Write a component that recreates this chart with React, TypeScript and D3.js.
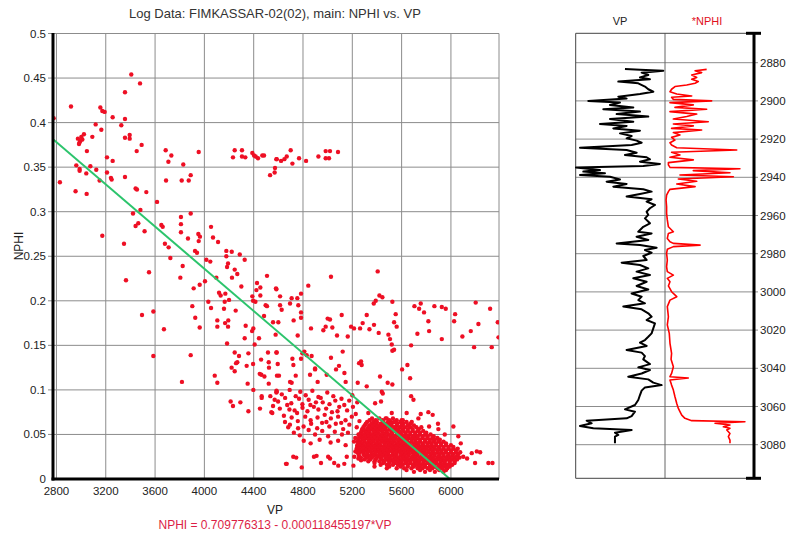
import React from 'react';
import * as d3 from 'd3';

// ---- Crossplot axes ----
const X_TICKS = [2800, 3200, 3600, 4000, 4400, 4800, 5200, 5600, 6000];
const Y_TICKS = [0, 0.05, 0.1, 0.15, 0.2, 0.25, 0.3, 0.35, 0.4, 0.45, 0.5];
const DEPTH_TICKS = [2880, 2900, 2920, 2940, 2960, 2980, 3000, 3020, 3040, 3060, 3080];

// Linear fit NPHI = a - b * VP
const FIT_INTERCEPT = 0.709776313;
const FIT_SLOPE = 0.000118455197;

// ---- Crossplot samples [VP, NPHI] ----
const SHALE_POINTS: [number, number][] = [
  [3407, 0.454], [3478, 0.444], [3356, 0.434], [2918, 0.418], [3156, 0.417], [3172, 0.413], [3191, 0.412],
  [3256, 0.406], [3356, 0.404], [2777, 0.405], [3326, 0.397], [3118, 0.398], [3164, 0.392], [3091, 0.384],
  [3356, 0.383], [3394, 0.386], [3394, 0.382], [3023, 0.387], [3002, 0.384], [2974, 0.382], [3010, 0.381],
  [2988, 0.378], [2983, 0.376], [2995, 0.38], [3491, 0.375], [3047, 0.368], [3451, 0.368], [3686, 0.369],
  [3732, 0.363], [3708, 0.356], [3954, 0.367], [3829, 0.353], [3210, 0.361], [3256, 0.357], [2961, 0.352],
  [3075, 0.351], [3123, 0.347], [2988, 0.346], [2988, 0.348], [3042, 0.343], [3210, 0.344], [3242, 0.338],
  [3248, 0.336], [3150, 0.335], [3356, 0.339], [3689, 0.335], [3816, 0.335], [3873, 0.335], [3889, 0.341],
  [2828, 0.333], [2955, 0.323], [3045, 0.32], [3442, 0.326], [3453, 0.325], [3529, 0.322], [3616, 0.311],
  [3481, 0.302], [3421, 0.298], [3810, 0.294], [3889, 0.298], [3464, 0.287], [3442, 0.284], [3515, 0.278],
  [3651, 0.285], [3662, 0.283], [3810, 0.286], [3810, 0.277], [3867, 0.27], [3951, 0.275], [3964, 0.272],
  [3954, 0.267], [4054, 0.283], [4070, 0.271], [4111, 0.266], [3680, 0.264], [3710, 0.26], [3172, 0.273],
  [3348, 0.264], [3924, 0.256], [3940, 0.254], [4178, 0.256], [4222, 0.255], [4287, 0.252],
];

const BAND_POINTS: [number, number][] = [
  [4232, 0.361], [4246, 0.369], [4305, 0.369], [4305, 0.362], [4332, 0.361], [4389, 0.366], [4403, 0.363],
  [4416, 0.362], [4435, 0.36], [4470, 0.363], [4484, 0.363], [4584, 0.359], [4573, 0.349], [4570, 0.344],
  [4533, 0.341], [4587, 0.359], [4622, 0.357], [4649, 0.359], [4668, 0.362], [4700, 0.369], [4714, 0.354],
  [4768, 0.36], [4825, 0.357], [4925, 0.362], [4984, 0.368], [5019, 0.368], [4984, 0.36], [5011, 0.36],
  [5084, 0.367],
];

const MID_POINTS: [number, number][] = [
  [3724, 0.248], [4016, 0.246], [4048, 0.244], [4178, 0.25], [4327, 0.246], [4192, 0.242], [4184, 0.238],
  [4246, 0.235], [4267, 0.23], [3824, 0.239], [3805, 0.226], [3551, 0.232], [3364, 0.223], [4224, 0.226],
  [4508, 0.228], [4427, 0.22], [4454, 0.215], [4584, 0.213], [3962, 0.218], [3913, 0.214], [4005, 0.222],
  [4097, 0.226], [4300, 0.216], [4422, 0.212], [4119, 0.209], [4132, 0.206], [4170, 0.208], [4389, 0.205],
  [4454, 0.206], [4414, 0.199], [4395, 0.2], [4200, 0.201], [4165, 0.199], [4032, 0.199], [4054, 0.192],
  [4159, 0.191], [4254, 0.189], [4497, 0.195], [4508, 0.194], [4484, 0.183], [4557, 0.176], [4578, 0.162],
  [3902, 0.194], [3926, 0.181], [3962, 0.17], [4105, 0.178], [4105, 0.171], [4168, 0.175], [4192, 0.171],
  [4194, 0.178], [4335, 0.172], [4397, 0.169], [4387, 0.166], [4443, 0.158], [4327, 0.158], [4408, 0.151],
  [4184, 0.152], [3494, 0.184], [3586, 0.188], [3672, 0.168], [3586, 0.138], [3889, 0.139], [3818, 0.109],
  [4084, 0.116], [4105, 0.108], [4246, 0.142], [4281, 0.138], [4267, 0.131], [4257, 0.13], [4221, 0.125],
  [4246, 0.121], [4343, 0.127], [4357, 0.141], [4395, 0.129], [4460, 0.134], [4522, 0.131], [4516, 0.142],
  [4584, 0.142], [4524, 0.125], [4589, 0.116], [4449, 0.118], [4462, 0.117], [4487, 0.115], [4522, 0.107],
  [4351, 0.107], [4397, 0.1], [4465, 0.093], [4465, 0.091], [4535, 0.093], [4570, 0.089], [4584, 0.097],
  [4213, 0.087], [4232, 0.082], [4292, 0.086], [4357, 0.076], [4451, 0.079], [4543, 0.075], [4557, 0.082],
  [4551, 0.074],
  [5406, 0.233], [5027, 0.227], [4843, 0.217], [4581, 0.214], [4614, 0.205], [4708, 0.203], [4754, 0.203],
  [4784, 0.208], [4695, 0.197], [4762, 0.195], [4614, 0.195], [4627, 0.19], [4784, 0.187], [4784, 0.181],
  [4724, 0.178], [4600, 0.176], [4757, 0.161], [4865, 0.169], [4965, 0.167], [4984, 0.171], [5000, 0.18],
  [5019, 0.179], [5038, 0.17], [5114, 0.184], [5076, 0.161], [5163, 0.16], [5190, 0.171], [5214, 0.169],
  [5263, 0.169], [5284, 0.175], [5317, 0.184], [5339, 0.168], [5376, 0.173], [5374, 0.197], [5390, 0.2],
  [5420, 0.206], [5444, 0.204], [5414, 0.164], [5493, 0.162], [5506, 0.157], [5525, 0.199], [5539, 0.176],
  [5560, 0.171], [5552, 0.185], [5520, 0.151], [5539, 0.145], [5525, 0.144], [5677, 0.15], [5704, 0.194],
  [5742, 0.191], [5755, 0.197], [5782, 0.187], [5728, 0.163], [5817, 0.177], [5823, 0.166], [5866, 0.194],
  [5926, 0.193], [5958, 0.191], [5926, 0.157], [6034, 0.185], [6026, 0.177], [6093, 0.16], [6161, 0.166],
  [6223, 0.174], [6201, 0.198], [6318, 0.191], [6188, 0.148], [6331, 0.148], [6380, 0.176], [6386, 0.159],
  [4587, 0.142], [4595, 0.129], [4605, 0.116], [4587, 0.098], [4714, 0.135], [4722, 0.128], [4784, 0.135],
  [4795, 0.141], [4811, 0.143], [4830, 0.139], [4870, 0.138], [4857, 0.117], [4741, 0.116], [4695, 0.109],
  [4708, 0.108], [4898, 0.123], [4898, 0.124], [4919, 0.109], [5027, 0.136], [4992, 0.117], [5068, 0.123],
  [5092, 0.127], [5122, 0.143], [5136, 0.119], [5146, 0.109], [5244, 0.108], [5255, 0.13], [5271, 0.132],
  [5276, 0.128], [5317, 0.104], [5425, 0.115], [5487, 0.108], [5439, 0.098], [5385, 0.085], [5433, 0.087],
  [5447, 0.096], [5525, 0.106], [5604, 0.123], [5647, 0.128], [5669, 0.113], [5677, 0.093], [5696, 0.089],
  [5755, 0.073], [5817, 0.075], [5736, 0.068], [5682, 0.064], [5823, 0.059], [5898, 0.056], [6020, 0.059],
  [5479, 0.068], [5520, 0.074], [5514, 0.064], [5641, 0.074], [5852, 0.072], [5722, 0.048],
];

const CLUSTER_A: [number, number][] = [
  [4585, 0.099], [4628, 0.095], [4692, 0.1], [4741, 0.093], [4778, 0.098], [4822, 0.094], [4876, 0.099],
  [4925, 0.092], [4997, 0.097], [5046, 0.093], [5112, 0.09], [5175, 0.088],
  [4598, 0.087], [4655, 0.091], [4705, 0.085], [4768, 0.09], [4795, 0.084], [4846, 0.089], [4905, 0.086],
  [4944, 0.091], [5015, 0.084], [5062, 0.088], [5135, 0.083], [5205, 0.081],
  [4612, 0.079], [4672, 0.083], [4732, 0.077], [4796, 0.08], [4836, 0.076], [4888, 0.081], [4925, 0.078],
  [4988, 0.079], [5035, 0.075], [5094, 0.081], [5158, 0.077], [5228, 0.073],
  [4645, 0.071], [4708, 0.069], [4752, 0.074], [4818, 0.07], [4862, 0.066], [4918, 0.069], [4976, 0.072],
  [5026, 0.068], [5085, 0.07], [5145, 0.066], [5196, 0.07], [5258, 0.065],
  [4694, 0.061], [4758, 0.065], [4805, 0.059], [4866, 0.062], [4915, 0.057], [4955, 0.063], [5014, 0.059],
  [5066, 0.062], [5126, 0.056], [5176, 0.061], [5236, 0.058],
  [4726, 0.052], [4774, 0.049], [4846, 0.055], [4898, 0.05], [4956, 0.054], [5004, 0.048], [5058, 0.053],
  [5116, 0.05], [5165, 0.052], [5224, 0.046],
  [4806, 0.043], [4862, 0.04], [4935, 0.044], [5024, 0.041], [5085, 0.043], [5146, 0.038], [5214, 0.042],
  [4654, 0.064], [4690, 0.078], [4860, 0.083], [4960, 0.086], [5080, 0.076], [5200, 0.094], [5240, 0.086],
  [5250, 0.05], [4760, 0.057], [4990, 0.064], [5110, 0.063], [4680, 0.058],
];

// Dense low-porosity core: [NPHI, VP values]
const CORE_ROWS: [number, number[]][] = [
  [0.068, [5360, 5420, 5470, 5530]],
  [0.066, [5340, 5390, 5445, 5500, 5560, 5610]],
  [0.064, [5320, 5370, 5400, 5450, 5490, 5540, 5590, 5640]],
  [0.062, [5310, 5355, 5390, 5430, 5470, 5515, 5565, 5615, 5670]],
  [0.06, [5300, 5340, 5380, 5415, 5450, 5490, 5520, 5560, 5600, 5650, 5700]],
  [0.058, [5290, 5330, 5365, 5400, 5435, 5470, 5505, 5545, 5585, 5625, 5670, 5720]],
  [0.056, [5280, 5320, 5350, 5390, 5420, 5460, 5500, 5530, 5570, 5610, 5650, 5690, 5740]],
  [0.054, [5275, 5300, 5335, 5370, 5405, 5440, 5480, 5515, 5550, 5580, 5615, 5650, 5690, 5730, 5775]],
  [0.052, [5270, 5310, 5340, 5380, 5410, 5450, 5480, 5520, 5560, 5590, 5630, 5670, 5710, 5750, 5800]],
  [0.05, [5265, 5290, 5325, 5355, 5390, 5425, 5455, 5495, 5525, 5565, 5600, 5635, 5670, 5710, 5745, 5790, 5835]],
  [0.048, [5260, 5300, 5330, 5370, 5400, 5440, 5470, 5510, 5540, 5580, 5620, 5650, 5690, 5730, 5770, 5810, 5860]],
  [0.046, [5255, 5280, 5310, 5345, 5380, 5415, 5450, 5480, 5515, 5550, 5585, 5620, 5660, 5695, 5730, 5770, 5810, 5850, 5890]],
  [0.044, [5250, 5290, 5330, 5360, 5400, 5430, 5460, 5500, 5530, 5570, 5600, 5640, 5680, 5710, 5750, 5790, 5830, 5870, 5910]],
  [0.042, [5245, 5265, 5300, 5335, 5370, 5405, 5440, 5475, 5505, 5540, 5575, 5610, 5645, 5680, 5715, 5750, 5790, 5825, 5860, 5900, 5940]],
  [0.04, [5250, 5280, 5320, 5350, 5390, 5420, 5460, 5490, 5520, 5560, 5590, 5630, 5660, 5700, 5730, 5770, 5810, 5840, 5880, 5920, 5960]],
  [0.038, [5240, 5260, 5295, 5330, 5365, 5400, 5430, 5465, 5500, 5535, 5570, 5605, 5635, 5670, 5705, 5740, 5775, 5810, 5845, 5880, 5920, 5960, 6000]],
  [0.036, [5240, 5280, 5310, 5350, 5380, 5410, 5450, 5480, 5520, 5550, 5590, 5620, 5650, 5690, 5720, 5760, 5790, 5830, 5860, 5900, 5940, 5980, 6020]],
  [0.034, [5235, 5255, 5290, 5325, 5360, 5395, 5425, 5460, 5495, 5530, 5565, 5600, 5630, 5665, 5700, 5735, 5770, 5800, 5835, 5870, 5905, 5940, 5980, 6020, 6055]],
  [0.032, [5240, 5270, 5310, 5340, 5380, 5410, 5440, 5480, 5510, 5540, 5580, 5610, 5650, 5680, 5710, 5750, 5780, 5820, 5850, 5890, 5920, 5960, 6000, 6040]],
  [0.03, [5240, 5260, 5290, 5325, 5355, 5390, 5420, 5455, 5490, 5525, 5560, 5590, 5625, 5655, 5690, 5720, 5755, 5790, 5820, 5855, 5890, 5925, 5960, 6000, 6040, 6075]],
  [0.028, [5250, 5290, 5320, 5360, 5390, 5430, 5460, 5490, 5530, 5560, 5600, 5630, 5660, 5700, 5730, 5770, 5800, 5840, 5870, 5910, 5940, 5980, 6020, 6060]],
  [0.026, [5255, 5300, 5340, 5375, 5410, 5445, 5480, 5515, 5550, 5590, 5620, 5655, 5690, 5725, 5760, 5795, 5830, 5865, 5900, 5940, 5975, 6010, 6050]],
  [0.024, [5270, 5320, 5360, 5400, 5430, 5470, 5500, 5540, 5570, 5610, 5640, 5680, 5710, 5750, 5780, 5820, 5850, 5890, 5920, 5960, 5990, 6030, 6070]],
  [0.022, [5300, 5345, 5390, 5440, 5480, 5515, 5550, 5585, 5620, 5655, 5690, 5725, 5760, 5795, 5830, 5865, 5900, 5935, 5970, 6010, 6050]],
  [0.02, [5330, 5380, 5420, 5460, 5500, 5530, 5570, 5600, 5640, 5670, 5710, 5740, 5780, 5810, 5850, 5880, 5920, 5950, 5990, 6030]],
  [0.018, [5380, 5450, 5500, 5545, 5590, 5630, 5670, 5705, 5740, 5775, 5810, 5845, 5880, 5915, 5950, 5990, 6030]],
  [0.016, [5430, 5480, 5530, 5570, 5610, 5650, 5690, 5720, 5760, 5790, 5830, 5860, 5900, 5930, 5970, 6010]],
  [0.014, [5500, 5590, 5650, 5700, 5745, 5790, 5830, 5870, 5910, 5950, 5990]],
  [0.012, [5560, 5620, 5680, 5730, 5770, 5810, 5850, 5890, 5930, 5970]],
  [0.01, [5640, 5750, 5830, 5905, 5960]],
  [0.008, [5700, 5790, 5870, 5940]],
];

const LOW_POINTS: [number, number][] = [
  [4662, 0.017], [4721, 0.025], [4745, 0.024], [4790, 0.013], [4889, 0.025], [4910, 0.026], [4946, 0.018],
  [5004, 0.025], [5019, 0.023], [5053, 0.018], [5086, 0.015], [5135, 0.017], [5155, 0.025], [5216, 0.025],
  [5209, 0.015], [5249, 0.023], [5271, 0.021], [4668, 0.017],
  [6131, 0.023], [6169, 0.029], [6210, 0.031], [6237, 0.03], [6196, 0.018], [6304, 0.018], [6337, 0.018],
  [5330, 0.074], [5600, 0.066], [5760, 0.058], [5950, 0.05], [6080, 0.04], [6100, 0.025], [5480, 0.012],
  [5380, 0.014], [5225, 0.031], [5895, 0.062], [6060, 0.048],
];

// ---- Depth logs [depth, value] ----
const VP_LOG: [number, number][] = [
  [2883.3, 4786], [2883.7, 5391], [2884.2, 6331], [2885.2, 5458], [2886.4, 5726], [2887.7, 5391], [2888.7, 5793],
  [2889.9, 4518], [2890.8, 5323], [2892.5, 5592], [2893.9, 5726], [2895.2, 5928], [2896.4, 5391], [2897.8, 4518],
  [2898.8, 4853], [2900.0, 3309], [2900.9, 4585], [2902.1, 4182], [2903.4, 5122], [2904.4, 3913], [2905.6, 5391],
  [2906.9, 4451], [2908.2, 5726], [2909.5, 4182], [2910.9, 5122], [2912.1, 3779], [2913.1, 4853], [2914.4, 4316],
  [2915.6, 5391], [2917.0, 4585], [2918.4, 5055], [2919.6, 4853], [2920.8, 5256], [2921.9, 5458], [2923.1, 5055],
  [2924.5, 2973], [2925.7, 4853], [2927.1, 5256], [2928.3, 4786], [2929.5, 5659], [2930.6, 5793], [2931.8, 5391],
  [2933.0, 6196], [2934.1, 5525], [2934.9, 2812], [2936.2, 3779], [2937.0, 3107], [2937.9, 3980], [2938.8, 2973],
  [2939.7, 4182], [2941.1, 4585], [2942.3, 4047], [2943.5, 4853], [2944.9, 4316], [2946.3, 5525], [2947.5, 5860],
  [2948.7, 5391], [2950.1, 4853], [2951.5, 5860], [2952.7, 5659], [2954.5, 5995], [2956.2, 5793], [2958.0, 5659],
  [2959.7, 5726], [2961.5, 5592], [2964.1, 5793], [2965.9, 5525], [2968.5, 5323], [2969.4, 5860], [2971.1, 5256],
  [2972.8, 5726], [2974.6, 4451], [2975.5, 5391], [2976.9, 6062], [2978.1, 5592], [2979.5, 5860], [2981.2, 5525],
  [2983.3, 5659], [2984.7, 4652], [2985.9, 5391], [2987.7, 5726], [2989.4, 5256], [2991.2, 5793], [2992.9, 5122],
  [2994.7, 5659], [2996.9, 5256], [2998.7, 5726], [3000.8, 5055], [3002.5, 5458], [3004.3, 5323], [3006.0, 5592],
  [3007.7, 4719], [3009.1, 5458], [3011.2, 5726], [3013.0, 5860], [3014.7, 5659], [3016.5, 5995], [3019.1, 5928],
  [3021.7, 5860], [3023.5, 5726], [3025.2, 5592], [3026.6, 5391], [3028.3, 5659], [3030.4, 4853], [3031.8, 5458],
  [3033.6, 5592], [3035.3, 5525], [3037.8, 5793], [3039.5, 5323], [3040.9, 5793], [3042.7, 5458], [3044.4, 4920],
  [3045.8, 5726], [3047.5, 5928], [3048.8, 6264], [3050.0, 5592], [3051.7, 5458], [3054.0, 5391], [3056.6, 5323],
  [3059.2, 5189], [3061.5, 4786], [3062.7, 5189], [3065.0, 5055], [3066.2, 4853], [3067.4, 3242], [3068.8, 3443],
  [3070.2, 2973], [3071.4, 3510], [3072.3, 5055], [3073.7, 4383], [3074.9, 4518], [3075.8, 4383], [3077.6, 4383],
  [3079.3, 4383],
];

const NPHI_LOG: [number, number][] = [
  [2883.5, 0.234], [2884.2, 0.169], [2885.2, 0.206], [2886.4, 0.15], [2887.7, 0.178], [2888.7, 0.15], [2889.9, 0.187],
  [2890.8, 0.169], [2891.7, 0.122], [2892.5, 0.056], [2893.9, 0.037], [2895.2, 0.028], [2896.4, 0.066], [2897.4, 0.15],
  [2898.1, 0.037], [2899.2, 0.047], [2900.0, 0.262], [2900.9, 0.028], [2902.1, 0.159], [2903.4, 0.056], [2904.4, 0.234],
  [2905.6, 0.028], [2906.9, 0.178], [2908.2, 0.122], [2909.5, 0.047], [2910.9, 0.243], [2912.1, 0.047], [2913.1, 0.159],
  [2914.4, 0.037], [2915.2, 0.206], [2916.6, 0.047], [2917.8, 0.084], [2919.1, 0.037], [2920.5, 0.056], [2921.9, 0.028],
  [2923.1, 0.037], [2924.5, 0.066], [2925.7, 0.403], [2926.9, 0.037], [2928.3, 0.084], [2929.5, 0.028], [2930.9, 0.159],
  [2932.3, 0.019], [2933.5, 0.019], [2934.8, 0.028], [2935.5, 0.421], [2936.5, 0.159], [2937.6, 0.365], [2938.8, 0.084],
  [2939.7, 0.384], [2940.9, 0.075], [2942.1, 0.178], [2943.5, 0.066], [2944.9, 0.169], [2946.3, 0.028], [2947.5, 0.019],
  [2949.3, 0.009], [2951.9, 0.006], [2955.4, 0.009], [2958.9, 0.009], [2962.3, 0.013], [2965.9, 0.019], [2968.5, 0.047],
  [2969.4, 0.019], [2972.0, 0.013], [2973.7, 0.028], [2974.6, 0.047], [2975.5, 0.197], [2976.3, 0.047], [2977.7, 0.013],
  [2979.8, 0.009], [2983.3, 0.013], [2986.8, 0.009], [2989.4, 0.013], [2991.2, 0.047], [2992.9, 0.013], [2994.7, 0.028],
  [2996.9, 0.019], [2999.9, 0.037], [3002.5, 0.066], [3004.3, 0.028], [3007.7, 0.013], [3013.0, 0.019], [3017.3, 0.013],
  [3021.7, 0.024], [3026.9, 0.028], [3032.2, 0.037], [3035.3, 0.034], [3039.2, 0.047], [3042.7, 0.037], [3044.4, 0.028],
  [3045.1, 0.131], [3046.1, 0.028], [3048.8, 0.037], [3051.4, 0.047], [3054.9, 0.056], [3058.4, 0.066], [3061.0, 0.075],
  [3062.7, 0.084], [3064.5, 0.094], [3066.2, 0.112], [3067.4, 0.15], [3068.0, 0.449], [3068.8, 0.281], [3069.7, 0.365],
  [3070.6, 0.328], [3071.4, 0.365], [3072.3, 0.347], [3074.1, 0.365], [3075.8, 0.356], [3077.6, 0.365], [3079.3, 0.365],
];

const FONT = 'Liberation Sans, Arial, Helvetica, sans-serif';
const GRID = '#8c8c8c';
const DOT = '#ee0f24';

export default function App() {
  const x = d3.scaleLinear().domain([2772, 6390]).range([53, 499]);
  const y = d3.scaleLinear().domain([0, 0.5]).range([479, 33.5]);

  const points: [number, number][] = [
    ...SHALE_POINTS,
    ...BAND_POINTS,
    ...MID_POINTS,
    ...CLUSTER_A,
    ...CORE_ROWS.flatMap(([n, vps]) => vps.map((v) => [v, n] as [number, number])),
    ...LOW_POINTS,
  ];

  const [vpMin] = x.domain();
  const vpZero = FIT_INTERCEPT / FIT_SLOPE;
  const fitLine = d3
    .line<number>()
    .x((v) => x(v))
    .y((v) => y(FIT_INTERCEPT - FIT_SLOPE * v))([vpMin, vpZero]);

  // Depth track scales
  const depth = d3.scaleLinear().domain([2880, 3080]).range([62.7, 444.7]);
  const vpTrack = d3.scaleLinear().domain([2800, 6400]).range([575.7, 665]);
  const nphiTrack = d3.scaleLinear().domain([0, 0.5]).range([665, 754]);
  const trackTop = 33.3;
  const trackBottom = 478.3;

  const vpPath = d3
    .line<[number, number]>()
    .x((d) => vpTrack(d[1]))
    .y((d) => depth(d[0]))(VP_LOG);
  const nphiPath = d3
    .line<[number, number]>()
    .x((d) => nphiTrack(d[1]))
    .y((d) => depth(d[0]))(NPHI_LOG);

  const fmtY = (t: number) => String(+t.toFixed(2));

  return (
    <svg
      width={786}
      height={536}
      viewBox="0 0 786 536"
      style={{ position: 'absolute', left: 0, top: 0, background: '#fff' }}
      fontFamily={FONT}
    >
      <rect x={0} y={0} width={786} height={536} fill="#fff" />
      <defs>
        <clipPath id="plot-clip">
          <rect x={53} y={33.5} width={446} height={445.5} />
        </clipPath>
      </defs>

      <text x={275} y={18} textAnchor="middle" fontSize={13} fill="#333">
        Log Data: FIMKASSAR-02(02), main: NPHI vs. VP
      </text>

      {/* grid */}
      {X_TICKS.map((t) => (
        <line key={'gx' + t} x1={x(t)} x2={x(t)} y1={y(0.5)} y2={y(0)} stroke={GRID} strokeWidth={1} />
      ))}
      {Y_TICKS.filter((t) => t > 0).map((t) => (
        <line key={'gy' + t} x1={48} x2={499} y1={y(t)} y2={y(t)} stroke={GRID} strokeWidth={1} />
      ))}
      <line x1={499} x2={499} y1={y(0.5)} y2={y(0)} stroke={GRID} strokeWidth={1} />

      {/* samples */}
      <g clipPath="url(#plot-clip)">
        {points.map(([v, n], i) => (
          <circle key={i} cx={x(v)} cy={y(n)} r={2.2} fill={DOT} />
        ))}
        <path d={fitLine ?? ''} fill="none" stroke="#2cc46c" strokeWidth={2} />
      </g>

      {/* axes */}
      <line x1={53} x2={53} y1={y(0.5) - 0.5} y2={y(0) + 1.5} stroke="#000" strokeWidth={3} />
      <line x1={51.5} x2={499} y1={y(0)} y2={y(0)} stroke="#000" strokeWidth={3} />

      {X_TICKS.map((t) => (
        <text key={'tx' + t} x={x(t)} y={495} textAnchor="middle" fontSize={11.5} fill="#222">
          {t}
        </text>
      ))}
      {Y_TICKS.map((t) => (
        <text key={'ty' + t} x={46} y={y(t) + 4} textAnchor="end" fontSize={11.5} fill="#222">
          {fmtY(t)}
        </text>
      ))}

      <text x={275} y={514} textAnchor="middle" fontSize={12} fill="#222">
        VP
      </text>
      <text
        x={0}
        y={0}
        transform="translate(23,246) rotate(-90)"
        textAnchor="middle"
        fontSize={12}
        fill="#222"
      >
        NPHI
      </text>
      <text x={275} y={529} textAnchor="middle" fontSize={12} fill="#dc1e46">
        NPHI = 0.709776313 - 0.000118455197*VP
      </text>

      {/* depth tracks */}
      <text x={620} y={25} textAnchor="middle" fontSize={11} fill="#222">
        VP
      </text>
      <text x={707} y={25} textAnchor="middle" fontSize={11} fill="#e0101c">
        *NPHI
      </text>

      {DEPTH_TICKS.map((d) => (
        <line key={'dg' + d} x1={575.7} x2={758} y1={depth(d)} y2={depth(d)} stroke={GRID} strokeWidth={1} />
      ))}
      <line x1={575.7} x2={575.7} y1={trackTop} y2={trackBottom} stroke="#444" strokeWidth={1} />
      <line x1={665} x2={665} y1={trackTop} y2={trackBottom} stroke="#666" strokeWidth={1} />
      <line x1={575.7} x2={754} y1={trackTop} y2={trackTop} stroke="#444" strokeWidth={1} />
      <line x1={575.7} x2={754} y1={trackBottom} y2={trackBottom} stroke="#444" strokeWidth={1} />

      <path d={vpPath ?? ''} fill="none" stroke="#000" strokeWidth={2} strokeLinejoin="round" />
      <path d={nphiPath ?? ''} fill="none" stroke="#ff0000" strokeWidth={1.6} strokeLinejoin="round" />

      <line x1={754} x2={754} y1={trackTop} y2={trackBottom} stroke="#000" strokeWidth={3} />
      <line x1={746} x2={761} y1={trackTop} y2={trackTop} stroke="#000" strokeWidth={3} />
      <line x1={746} x2={761} y1={trackBottom} y2={trackBottom} stroke="#000" strokeWidth={3} />
      {DEPTH_TICKS.map((d) => (
        <text key={'dt' + d} x={760} y={depth(d) + 4} fontSize={11.5} fill="#222">
          {d}
        </text>
      ))}
    </svg>
  );
}
